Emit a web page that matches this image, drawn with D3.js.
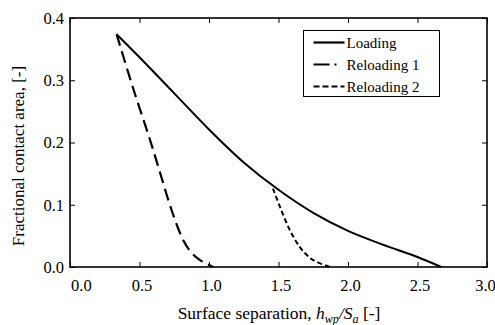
<!DOCTYPE html>
<html>
<head>
<meta charset="utf-8">
<script src="https://cdn.jsdelivr.net/npm/d3@7"></script>
<style>
  body { margin: 0; background: #fff; }
</style>
</head>
<body>
<div id="chart"></div>
<script>
// Values
const loadingX = [0.335, 0.5, 0.75, 1.0, 1.25, 1.5, 1.75, 2.0, 2.25, 2.5, 2.67];
const loadingY = [0.374, 0.337, 0.279, 0.221, 0.168, 0.124, 0.087, 0.058, 0.036, 0.016, 0.0];
const reload1X = [0.335, 0.45, 0.576, 0.65, 0.73, 0.815, 0.87, 0.93, 1.03];
const reload1Y = [0.374, 0.29, 0.204, 0.15, 0.092, 0.043, 0.024, 0.012, 0.0];
const reload2X = [1.46, 1.51, 1.58, 1.65, 1.7, 1.75, 1.87];
const reload2Y = [0.126, 0.097, 0.06, 0.033, 0.02, 0.011, 0.0];
const xTicks = [0, 0.5, 1.0, 1.5, 2.0, 2.5, 3.0];
const yTicks = [0, 0.1, 0.2, 0.3, 0.4];

const font = "'Liberation Serif', 'Times New Roman', Times, serif";
const width = 495, height = 325;
const margin = { top: 18, right: 8, bottom: 58, left: 70 };
const w = width - margin.left - margin.right;
const h = height - margin.top - margin.bottom;

const svg = d3.select('#chart').append('svg')
  .attr('width', width)
  .attr('height', height)
  .attr('font-family', font);

const g = svg.append('g')
  .attr('transform', `translate(${margin.left},${margin.top})`);

const x = d3.scaleLinear().domain([0, 3]).range([0, w]);
const y = d3.scaleLinear().domain([0, 0.4]).range([h, 0]);

// inner ticks on all four sides
const tickLen = 5;
const axisStyle = sel => {
  sel.attr('font-family', font);
  sel.select('.domain').remove();
  sel.selectAll('line').attr('stroke', '#000').attr('stroke-width', 1);
  sel.selectAll('text').style('font-size', '16.5px').style('font-family', font).attr('fill', '#000');
};

const xAxis = g.append('g')
  .attr('transform', `translate(0,${h})`)
  .call(d3.axisBottom(x).tickValues(xTicks).tickFormat(d3.format('.1f'))
    .tickSizeInner(-tickLen).tickPadding(12))
  .call(axisStyle);

// first label starts at the axis, last one is pulled in a little
xAxis.selectAll('.tick text')
  .attr('x', (d, i) => i === 0 ? 0.5 : (i === xTicks.length - 1 ? -2 : 2))
  .attr('text-anchor', (d, i) => i === 0 ? 'start' : 'middle');

g.append('g')
  .call(d3.axisTop(x).tickValues(xTicks).tickFormat('').tickSizeInner(-tickLen))
  .call(axisStyle);

g.append('g')
  .call(d3.axisLeft(y).tickValues(yTicks).tickFormat(d3.format('.1f'))
    .tickSizeInner(-tickLen).tickPadding(6))
  .call(axisStyle);

g.append('g')
  .attr('transform', `translate(${w},0)`)
  .call(d3.axisRight(y).tickValues(yTicks).tickFormat('').tickSizeInner(-tickLen))
  .call(axisStyle);

// frame
g.append('rect')
  .attr('width', w)
  .attr('height', h)
  .attr('fill', 'none')
  .attr('stroke', '#000')
  .attr('stroke-width', 1.6);

const line = d3.line()
  .x(d => x(d[0]))
  .y(d => y(d[1]))
  .curve(d3.curveCatmullRom.alpha(0.5));

const series = [
  { name: 'Loading', xs: loadingX, ys: loadingY, dash: null, width: 2 },
  { name: 'Reloading 1', xs: reload1X, ys: reload1Y, dash: '12,6', width: 2.2 },
  { name: 'Reloading 2', xs: reload2X, ys: reload2Y, dash: '5,3', width: 2 }
];

series.forEach(s => {
  const pts = s.xs.map((v, i) => [v, s.ys[i]]);
  g.append('path')
    .datum(pts)
    .attr('d', line)
    .attr('fill', 'none')
    .attr('stroke', '#000')
    .attr('stroke-width', s.width)
    .attr('stroke-dasharray', s.dash);
});

// legend
const legend = svg.append('g').attr('transform', 'translate(303.5,30.5)');
legend.append('rect')
  .attr('width', 136)
  .attr('height', 66)
  .attr('fill', '#fff')
  .attr('stroke', '#000')
  .attr('stroke-width', 1);

const legendDash = [null, '16,5,2', '6,3'];
series.forEach((s, i) => {
  const ly = 12 + i * 22;
  legend.append('line')
    .attr('x1', 10).attr('x2', 41)
    .attr('y1', ly).attr('y2', ly)
    .attr('stroke', '#000')
    .attr('stroke-width', 2.2)
    .attr('stroke-dasharray', legendDash[i]);
  legend.append('text')
    .attr('x', 43)
    .attr('y', ly)
    .attr('dy', '0.35em')
    .style('font-family', font)
    .style('font-size', '15px')
    .text(s.name);
});

// axis titles
const xt = svg.append('text')
  .attr('x', 279)
  .attr('y', 319)
  .attr('text-anchor', 'middle')
  .style('font-family', font)
  .style('font-size', '17.5px');
xt.append('tspan').text('Surface separation, ');
xt.append('tspan').style('font-style', 'italic').text('h');
xt.append('tspan').style('font-style', 'italic').style('font-size', '12px').attr('dy', 4).text('wp');
xt.append('tspan').style('font-style', 'italic').attr('dy', -4).text('/S');
xt.append('tspan').style('font-style', 'italic').style('font-size', '12px').attr('dy', 4).text('a');
xt.append('tspan').attr('dy', -4).text(' [-]');

svg.append('text')
  .attr('transform', 'translate(24,156) rotate(-90)')
  .attr('text-anchor', 'middle')
  .style('font-family', font)
  .style('font-size', '17px')
  .text('Fractional contact area, [-]');
</script>
</body>
</html>
